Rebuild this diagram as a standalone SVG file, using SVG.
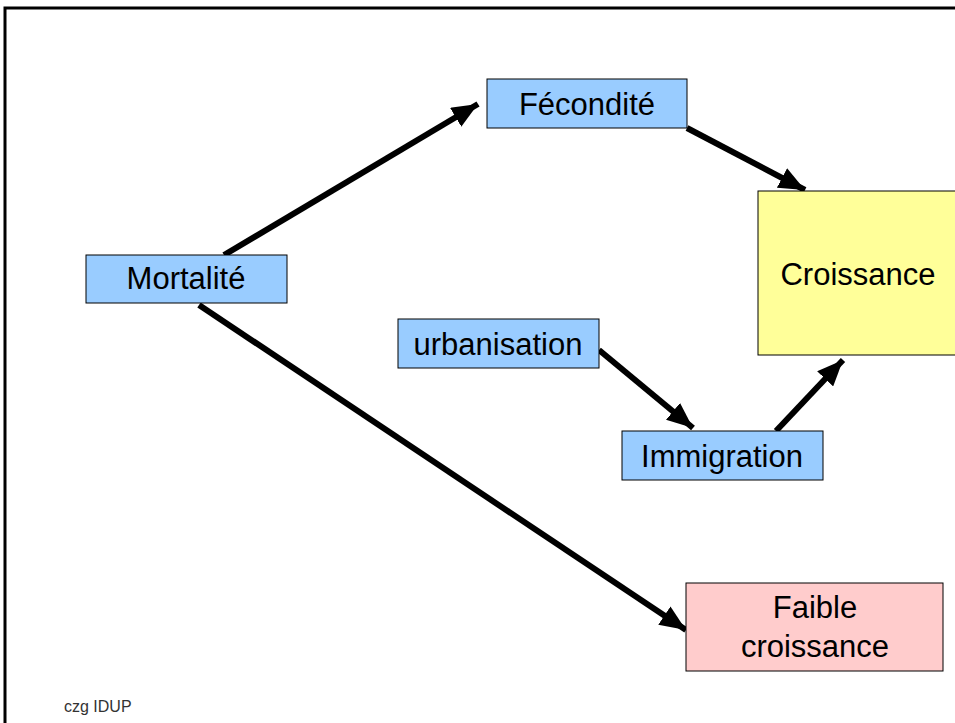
<svg xmlns="http://www.w3.org/2000/svg" width="955" height="723" viewBox="0 0 955 723">
<style>
.box{stroke:#000;stroke-width:1}
.blue{fill:#99CCFF}
.yellow{fill:#FFFF99}
.pink{fill:#FFCCCC}
.lbl{font-family:"Liberation Sans",Arial,sans-serif;font-size:31px;fill:#000;text-anchor:middle}
.conn{stroke:#000;stroke-width:6;fill:none;marker-end:url(#ah)}
</style>
<defs>
<marker id="ah" markerUnits="userSpaceOnUse" viewBox="0 0 26 22" refX="26" refY="11" markerWidth="26" markerHeight="22" orient="auto">
<path d="M0,0 L26,11 L0,22 z" fill="#000"/>
</marker>
</defs>
<rect width="955" height="723" fill="#fff"/>
<path d="M5,723 L5,8 L955,8" fill="none" stroke="#000" stroke-width="3"/>
<g id="connectors">
<line class="conn" x1="224" y1="255" x2="478" y2="104"/>
<line class="conn" x1="687" y1="128" x2="805" y2="190"/>
<line class="conn" x1="199" y1="305" x2="686" y2="630"/>
<line class="conn" x1="599" y1="350" x2="693" y2="428"/>
<line class="conn" x1="776" y1="431" x2="843" y2="360"/>
</g>
<g id="fecondite">
<rect class="box blue" x="487" y="79" width="200" height="49"/>
<text class="lbl" x="587" y="115">Fécondité</text>
</g>
<g id="mortalite">
<rect class="box blue" x="86" y="255" width="201" height="48"/>
<text class="lbl" x="186" y="289">Mortalité</text>
</g>
<g id="croissance">
<rect class="box yellow" x="758" y="191" width="200" height="164"/>
<text class="lbl" x="858" y="285">Croissance</text>
</g>
<g id="urbanisation">
<rect class="box blue" x="398" y="319" width="201" height="49"/>
<text class="lbl" x="498" y="355">urbanisation</text>
</g>
<g id="immigration">
<rect class="box blue" x="622" y="431" width="201" height="49"/>
<text class="lbl" x="722" y="467">Immigration</text>
</g>
<g id="faible">
<rect class="box pink" x="686" y="583" width="257" height="88"/>
<text class="lbl" x="815" y="618">Faible</text>
<text class="lbl" x="815" y="657">croissance</text>
</g>
<text x="64" y="712" font-family="Liberation Sans,Arial,sans-serif" font-size="16" fill="#333">czg IDUP</text>
</svg>
